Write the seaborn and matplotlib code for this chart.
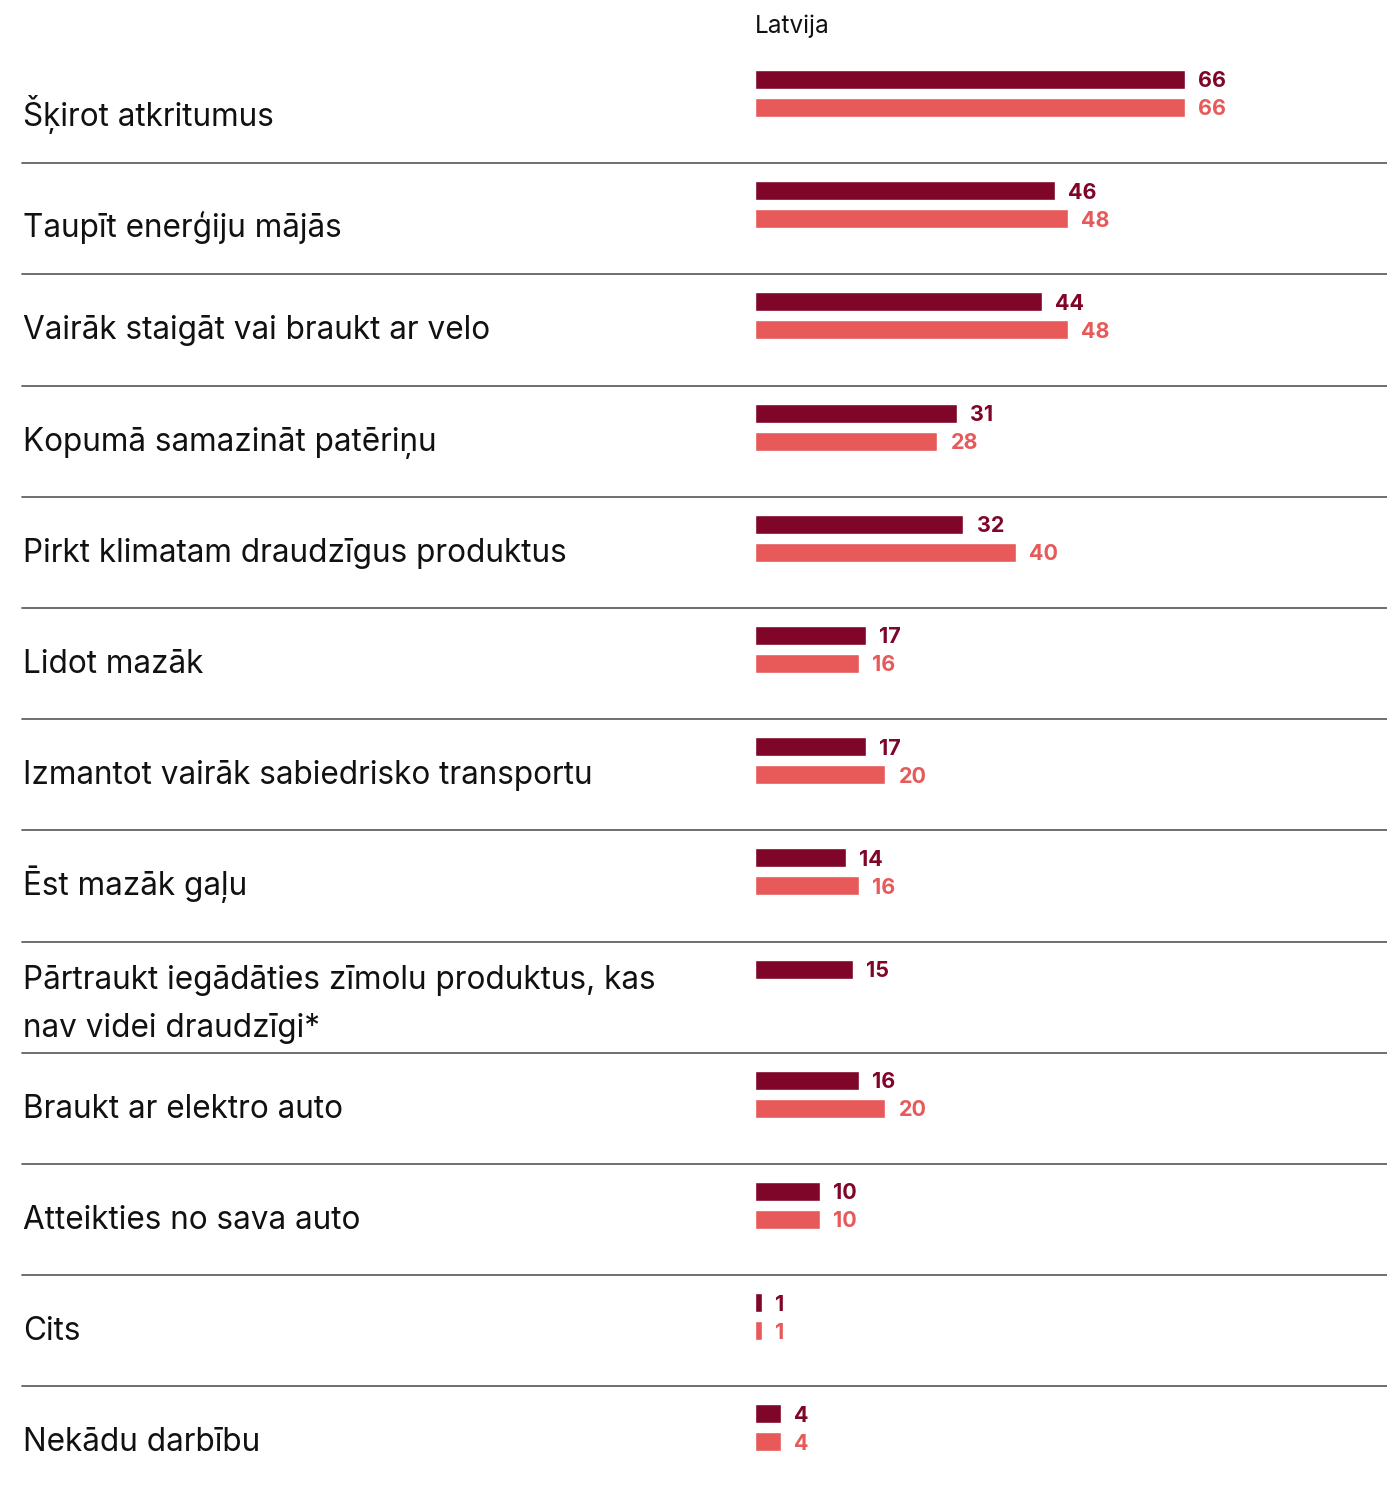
import numpy as np
import pandas as pd
import seaborn as sns
import matplotlib.pyplot as plt
from matplotlib.transforms import blended_transform_factory

categories = [
    "Šķirot atkritumus",
    "Taupīt enerģiju mājās",
    "Vairāk staigāt vai braukt ar velo",
    "Kopumā samazināt patēriņu",
    "Pirkt klimatam draudzīgus produktus",
    "Lidot mazāk",
    "Izmantot vairāk sabiedrisko transportu",
    "Ēst mazāk gaļu",
    "Pārtraukt iegādāties zīmolu produktus, kas\nnav videi draudzīgi*",
    "Braukt ar elektro auto",
    "Atteikties no sava auto",
    "Cits",
    "Nekādu darbību",
]
series_names = ["A", "B"]
values_a = [66, 46, 44, 31, 32, 17, 17, 14, 15, 16, 10, 1, 4]
values_b = [66, 48, 48, 28, 40, 16, 20, 16, np.nan, 20, 10, 1, 4]
title = "Latvija"

DARK = "#7f0628"
CORAL = "#e85959"
FONT = ["Inter", "DejaVu Sans"]

df = pd.DataFrame({
    "category": categories * 2,
    "series": [series_names[0]] * len(categories) + [series_names[1]] * len(categories),
    "value": values_a + values_b,
})

sns.set_theme(style="white")
plt.rcParams["font.family"] = FONT

W, H = 1387, 1490
fig = plt.figure(figsize=(W / 100, H / 100), dpi=100)
ax_left = 755 / W
ax_top = 52 / H
ax = fig.add_axes([ax_left, 0, 1 - ax_left, 1 - ax_top])

sns.barplot(data=df, x="value", y="category", hue="series", order=categories,
            hue_order=series_names, palette=[DARK, CORAL], orient="h",
            width=0.504, gap=0.32, dodge=True, legend=False, ax=ax,
            errorbar=None, saturation=1)

n = len(categories)
row_h = 111.2
ax.set_xlim(0, (W - 755) / 6.515)
ax.set_ylim((H - 52) / row_h - 0.373, -0.373)
ax.set_axis_off()

# value labels
for container, color in zip(ax.containers, [DARK, CORAL]):
    for bar in container:
        w = bar.get_width()
        if np.isnan(w) or w == 0:
            continue
        ax.annotate(f"{w:.0f}", (w, bar.get_y() + bar.get_height() / 2),
                    xytext=(9.5, 0), textcoords="offset points",
                    ha="left", va="center_baseline", fontsize=15.5,
                    fontweight="bold", color=color)

# category labels (baseline of last line) and separators
trans = blended_transform_factory(fig.transFigure, ax.transData)
for i, cat in enumerate(categories):
    if "\n" in cat:
        y = i + 0.481
    elif i < 2:
        y = i + 0.292  # first rows sit a bit lower in the original
    else:
        y = i + 0.211
    ax.text(23 / W, y, cat, transform=trans, ha="left", va="baseline",
            fontsize=22.7, color="#111111", linespacing=1.67)
    if i < n - 1:
        ax.plot([22 / W, 1], [i + 0.627, i + 0.627], transform=trans,
                color="#555555", lw=1.2, clip_on=False)

fig.text(755 / W, 1 - 33 / H, title, ha="left", va="baseline", fontsize=17.5,
         color="#111111")

fig.savefig("out.png", dpi=100)
